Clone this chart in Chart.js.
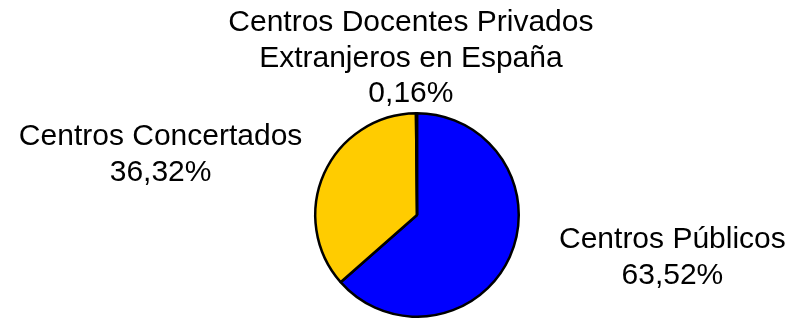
<!DOCTYPE html>
<html>
<head>
<meta charset="utf-8">
<script src="https://cdn.jsdelivr.net/npm/chart.js@4/dist/chart.umd.min.js"></script>
<style>
  html, body { margin: 0; padding: 0; background: #fff; }
  #wrap { width: 794px; height: 318px; }
</style>
</head>
<body>
<div id="wrap"><canvas id="pie" width="794" height="318"></canvas></div>
<script>
// Données du graphique
const labels = ['Centros Públicos', 'Centros Concertados', 'Centros Docentes Privados Extranjeros en España'];
const labelLines = [
    ['Centros Públicos'],
    ['Centros Concertados'],
    ['Centros Docentes Privados', 'Extranjeros en España']
];
const values = [63.52, 36.32, 0.16];
const colors = ['#0000ff', '#ffcc00', '#000000'];

// Position des étiquettes, en rayons depuis le centre
const labelOffsets = [[2.51, 0.42], [-2.52, -0.59], [-0.06, -1.54]];

const formatPct = v => v.toFixed(2).replace('.', ',') + '%';

const outsideLabels = {
    id: 'outsideLabels',
    afterDraw(chart) {
        const ctx = chart.ctx;
        const arcs = chart.getDatasetMeta(0).data;
        ctx.save();
        ctx.fillStyle = '#000';
        ctx.font = '30px "Liberation Sans", Arial, sans-serif';
        ctx.textAlign = 'center';
        ctx.textBaseline = 'middle';
        const lineH = 35.5;
        arcs.forEach((arc, i) => {
            const { x, y, outerRadius } = arc.getProps(['x', 'y', 'outerRadius'], true);
            const lines = [...labelLines[i], formatPct(values[i])];
            const cx = x + labelOffsets[i][0] * outerRadius;
            const cy = y + labelOffsets[i][1] * outerRadius;
            const top = cy - (lines.length - 1) * lineH / 2;
            lines.forEach((t, k) => ctx.fillText(t, cx, top + k * lineH));
        });
        ctx.restore();
    }
};

new Chart(document.getElementById('pie'), {
    type: 'pie',
    data: {
        labels: labels,
        datasets: [{
            data: values,
            backgroundColor: colors,
            borderColor: '#000',
            borderWidth: 2.5,
        }],
    },
    options: {
        responsive: false,
        animation: false,
        layout: { padding: { top: 112, bottom: 0, left: 40, right: 0 } },
        plugins: {
            legend: { display: false },
            tooltip: { enabled: false },
        },
    },
    plugins: [outsideLabels],
});
</script>
</body>
</html>
